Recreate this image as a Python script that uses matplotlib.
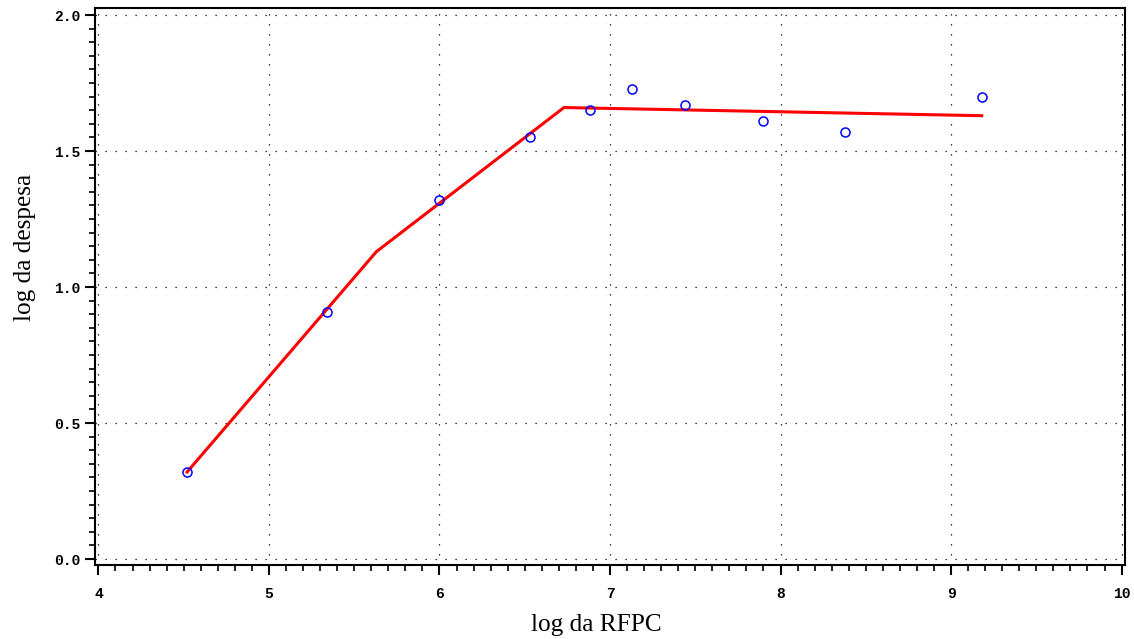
import numpy as np
import matplotlib
matplotlib.use("Agg")
import matplotlib.pyplot as plt
from matplotlib.ticker import MultipleLocator, FormatStrFormatter

# pontos observados
log_rfpc = [4.52, 5.34, 6.00, 6.53, 6.88, 7.13, 7.44, 7.90, 8.38, 9.18]
log_despesa = [0.32, 0.91, 1.32, 1.55, 1.65, 1.73, 1.67, 1.61, 1.57, 1.70]

# curva ajustada (segmentos)
fit_x = [4.52, 5.63, 6.73, 9.18]
fit_y = [0.32, 1.13, 1.66, 1.63]

fig = plt.figure(figsize=(11.34, 6.39), dpi=100)
ax = fig.add_axes([95 / 1134, 1 - 565 / 639, 1030 / 1134, 557 / 639])

ax.plot(fit_x, fit_y, color="red", lw=2.2, zorder=3)
ax.plot(log_rfpc, log_despesa, "o", mfc="none", mec="blue", ms=6.5, mew=1.1, zorder=4)

ax.set_xlim(3.98, 10.02)
ax.set_ylim(-0.022, 2.026)
ax.xaxis.set_major_locator(MultipleLocator(1))
ax.xaxis.set_minor_locator(MultipleLocator(0.1))
ax.yaxis.set_major_locator(MultipleLocator(0.5))
ax.yaxis.set_minor_locator(MultipleLocator(0.05))
ax.yaxis.set_major_formatter(FormatStrFormatter("%.1f"))

ax.grid(True, which="major", color="black", linestyle=(0, (1, 7)), linewidth=0.9)

for sp in ax.spines.values():
    sp.set_linewidth(1.5)

ax.tick_params(which="major", direction="out", length=7, width=1.5, labelsize=10.5)
ax.tick_params(which="minor", direction="out", length=4, width=1.2)
for lab in ax.get_xticklabels() + ax.get_yticklabels():
    lab.set_fontfamily("Liberation Mono")
    lab.set_fontweight("bold")
ax.tick_params(axis="x", pad=9)

ax.set_xlabel("log da RFPC", fontfamily="Liberation Serif", fontsize=18.2, labelpad=6)
ax.set_ylabel("log da despesa", fontfamily="Liberation Serif", fontsize=18.2, labelpad=11)
ax.xaxis.set_label_coords(0.487, -0.088)
ax.yaxis.set_label_coords(-0.057, 0.571)

fig.savefig("out.png", dpi=100)
